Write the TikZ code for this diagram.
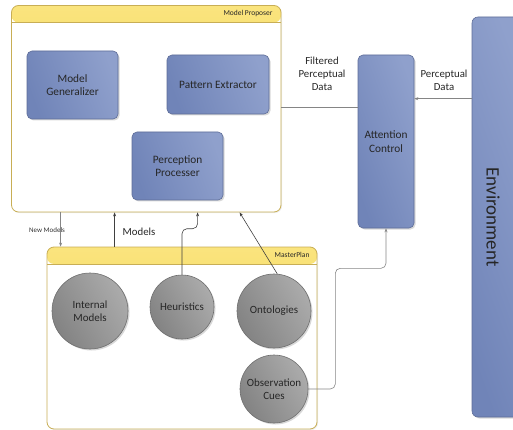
\documentclass[tikz,border=0pt]{standalone}
\usepackage{fontspec}
\setmainfont{Carlito}
\usetikzlibrary{shadows,arrows.meta,calc}

\definecolor{boxA}{HTML}{7084B8}
\definecolor{boxB}{HTML}{8FA0CC}
\definecolor{boxLine}{HTML}{5E6D98}
\definecolor{discA}{HTML}{838383}
\definecolor{discB}{HTML}{ABABAB}
\definecolor{discLine}{HTML}{6E6E6E}
\definecolor{hdrA}{HTML}{FAE47E}
\definecolor{hdrB}{HTML}{F1CE3A}
\definecolor{frame}{HTML}{C8AE55}
\definecolor{wire}{HTML}{858585}

\tikzset{
  container/.style={draw=frame, line width=0.8pt, fill=white, rounded corners=7pt,
    drop shadow={shadow xshift=1pt, shadow yshift=-1pt, opacity=0.15},
    path picture={
      \fill[top color=hdrA, bottom color=hdrB]
        (path picture bounding box.north west) rectangle
        ([yshift=-17pt]path picture bounding box.north east);
      \draw[frame, line width=0.6pt]
        ([yshift=-17pt]path picture bounding box.north west) --
        ([yshift=-17pt]path picture bounding box.north east);
    }},
  title/.style={font=\fontsize{7.5}{9}\selectfont, anchor=east, text=black!85},
  procbox/.style={draw=boxLine, line width=0.6pt, rounded corners=5pt,
    shading=axis, left color=boxA, right color=boxB, shading angle=110,
    drop shadow={shadow xshift=1.5pt, shadow yshift=-1.5pt, opacity=0.3},
    align=center, text=black!85, font=\fontsize{11.3}{13.5}\selectfont},
  disc/.style={circle, draw=discLine, line width=0.6pt,
    shading=axis, left color=discA, right color=discB, shading angle=120,
    drop shadow={shadow xshift=1.5pt, shadow yshift=-1.5pt, opacity=0.3},
    align=center, text=black!85, inner sep=0pt, font=\fontsize{11}{13.5}\selectfont},
  lbl/.style={align=center, text=black!85, font=\fontsize{10.8}{13.2}\selectfont},
  wirearrow/.style={draw=wire, line width=0.6pt, -{Stealth[length=4pt,width=3pt]}},
  darkarrow/.style={draw=black!75, line width=0.6pt, -{Stealth[length=4pt,width=3pt]}},
}

\begin{document}
\begin{tikzpicture}[x=1pt, y=-1pt]
\useasboundingbox (0,0) rectangle (513,430);

% containers
\node[container, minimum width=269.5pt, minimum height=206.5pt] (mp) at (146.25,108.75) {};
\node[title] (mptitle) at (276,14) {Model Proposer};
\node[container, minimum width=270pt, minimum height=182pt] (mpl) at (182,338) {};
\node[title] (mpltitle) at (313,255) {MasterPlan};

% processing boxes
\node[procbox, minimum width=91pt, minimum height=68pt] (mg) at (72.5,85) {Model\\Generalizer};
\node[procbox, minimum width=102pt, minimum height=59pt] (pe) at (218,84.5) {Pattern Extractor};
\node[procbox, minimum width=91pt, minimum height=68pt] (pp) at (177.5,166) {Perception\\Processer};
\node[procbox, minimum width=56pt, minimum height=173pt] (ac) at (386,141.5) {Attention\\Control};
\node[procbox, minimum width=50pt, minimum height=400pt, rounded corners=6pt] (env) at (497,217) {};
\node[rotate=-90, text=black!85, font=\fontsize{19}{22}\selectfont] (envtext) at (493,217) {Environment};

% knowledge discs
\node[disc, minimum size=76pt] (im) at (90,311) {Internal\\Models};
\node[disc, minimum size=64pt] (he) at (182,307) {Heuristics};
\node[disc, minimum size=74pt] (on) at (274,311) {Ontologies};
\node[disc, minimum size=68pt] (oc) at (274,389) {Observation\\Cues};

% labels
\node[lbl] (fpd) at (322,74) {Filtered\\Perceptual\\Data};
\node[lbl] (pdl) at (444,80) {Perceptual\\Data};
\node[text=black!80, font=\fontsize{7}{8}\selectfont] (nml) at (47,230) {New Models};
\node[lbl] (mdl) at (139,232) {Models};

% data flow
\coordinate (pdin) at ($(ac.north east)+(0,44)$);
\draw[wirearrow] (env.west |- pdin) -- (pdin);
\coordinate (fin) at ($(ac.north west)+(0,53)$);
\draw[draw=wire, line width=0.6pt] (mp.east |- fin) -- (fin);

\coordinate (nmtop) at ($(mp.south west)+(49.5,0)$);
\draw[wirearrow] (nmtop) -- (nmtop |- mpl.north);
\coordinate (mdtop) at ($(mp.south west)+(103.5,0)$);
\draw[darkarrow] (mdtop |- mpl.north) -- (mdtop);
\coordinate (hetop) at ($(mp.south west)+(186.5,0)$);
\draw[darkarrow, rounded corners=5pt] (he.north) -- ++(0,-46) -| (hetop);
\coordinate (ontop) at ($(mp.south west)+(228.5,0)$);
\draw[darkarrow] (on.85) -- (ontop);
\draw[wirearrow, rounded corners=5pt] (oc.east) -- ($(oc.east)+(27,0)$) |- ($(ac.south)+(0,40)$) -- (ac.south);

\end{tikzpicture}
\end{document}
